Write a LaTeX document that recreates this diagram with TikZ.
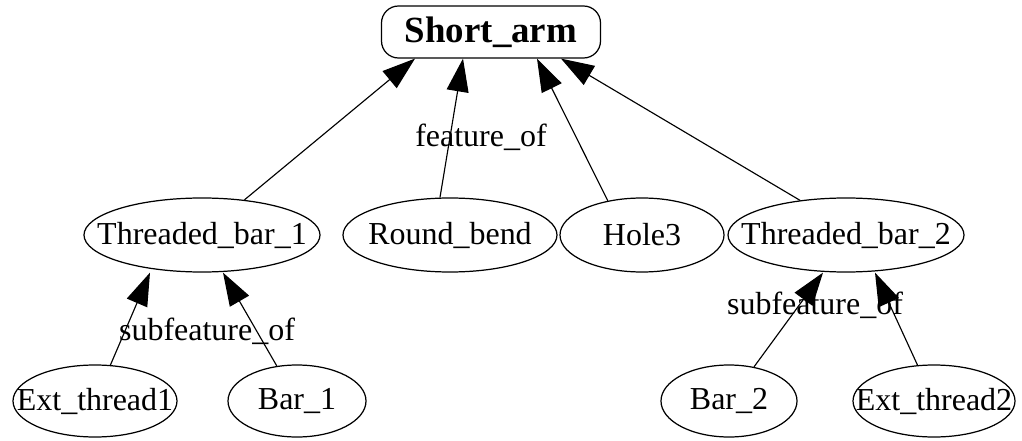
\documentclass[tikz,border=0pt]{standalone}
\usepackage{fontspec}
\setmainfont{Liberation Serif}
\usetikzlibrary{shapes.geometric,arrows.meta}
\begin{document}
\begin{tikzpicture}[
  every node/.style={font=\fontsize{18.2}{21.8}\selectfont},
  ell/.style={draw, ellipse, line width=0.7pt, inner sep=0pt, minimum height=1.48cm},
  edge/.style={-{Triangle[length=0.66cm,width=0.44cm]}, line width=0.65pt},
  lbl/.style={anchor=base, inner sep=0pt}
]
\useasboundingbox (0,0) rectangle (20.44,8.8);
\node[draw, rounded corners=0.34cm, line width=0.7pt, minimum width=4.38cm, minimum height=1.04cm, inner sep=0pt, font=\fontsize{21}{25}\selectfont\bfseries] (short) at (9.82,8.16) {Short\_arm};
\node[ell, minimum width=4.72cm, label={[inner sep=0pt]center:Threaded\_bar\_1}] (tb1) at (4.04,4.10) {};
\node[ell, minimum width=4.28cm, label={[inner sep=0pt]center:Round\_bend}] (rb) at (9.00,4.10) {};
\node[ell, minimum width=3.28cm, label={[inner sep=0pt]center:Hole3}] (hole) at (12.84,4.10) {};
\node[ell, minimum width=4.72cm, label={[inner sep=0pt]center:Threaded\_bar\_2}] (tb2) at (16.92,4.10) {};
\node[ell, minimum width=3.28cm, minimum height=1.44cm, label={[inner sep=0pt]center:Ext\_thread1}] (et1) at (1.90,0.78) {};
\node[ell, minimum width=2.76cm, minimum height=1.44cm, label={[inner sep=0pt]center:Bar\_1}] (bar1) at (5.94,0.78) {};
\node[ell, minimum width=2.72cm, minimum height=1.44cm, label={[inner sep=0pt]center:Bar\_2}] (bar2) at (14.58,0.78) {};
\node[ell, minimum width=3.24cm, minimum height=1.44cm, label={[inner sep=0pt]center:Ext\_thread2}] (et2) at (18.68,0.78) {};
\draw[edge] (tb1) -- ([xshift=-1.52cm]short.south);
\draw[edge] (rb.105) -- ([xshift=-0.56cm]short.south);
\draw[edge] (hole.135) -- ([xshift=0.92cm]short.south);
\draw[edge] (tb2.143) -- ([xshift=1.4cm]short.south);
\draw[edge] (et1) -- ([xshift=-1.04cm]tb1.south);
\draw[edge] (bar1) -- ([xshift=0.42cm]tb1.south);
\draw[edge] (bar2) -- ([xshift=-0.46cm]tb2.south);
\draw[edge] (et2) -- ([xshift=0.58cm]tb2.south);
\node[lbl] (featlbl) at (9.62,5.86) {feature\_of};
\node[lbl] (sublbl1) at (4.14,2.00) {subfeature\_of};
\node[lbl] (sublbl2) at (16.30,2.52) {subfeature\_of};
\end{tikzpicture}
\end{document}
